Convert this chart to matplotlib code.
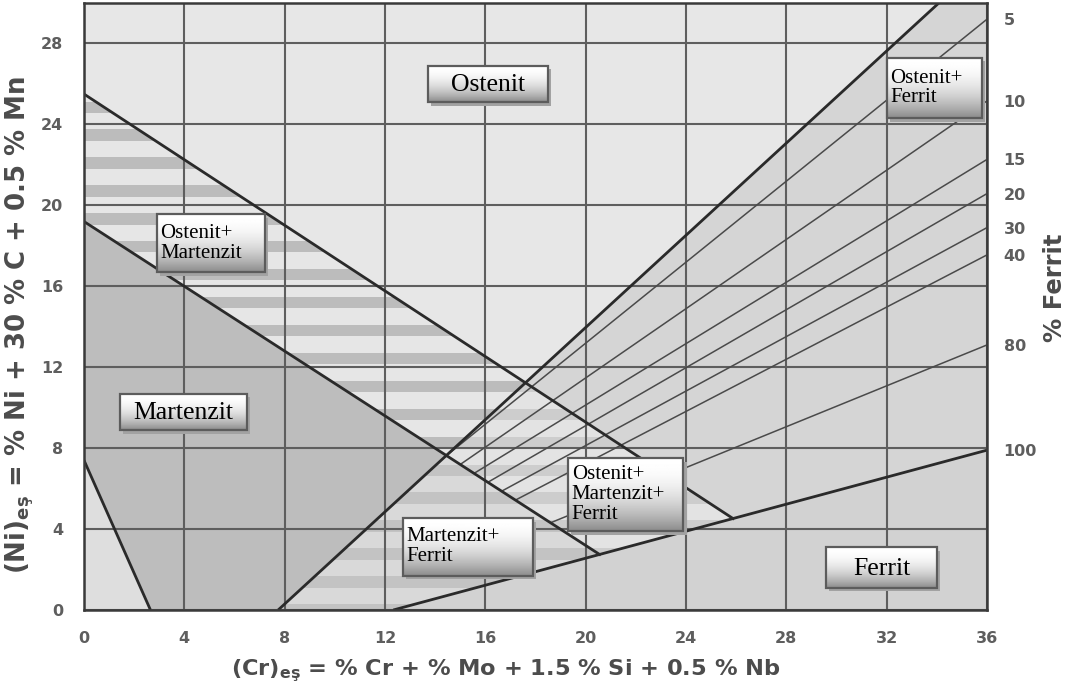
import numpy as np
import matplotlib
matplotlib.use("Agg")
import matplotlib.pyplot as plt
from matplotlib.patches import Polygon, Rectangle

# ---- axis ticks -------------------------------------------------------------
cr_ticks = [0, 4, 8, 12, 16, 20, 24, 28, 32, 36]
ni_ticks = [0, 4, 8, 12, 16, 20, 24, 28]

# ---- phase boundaries (Cr_eq, Ni_eq end points) -----------------------------
line_a_cr, line_a_ni = [0.0, 25.9], [25.5, 4.5]      # austenite / A+M
line_b_cr, line_b_ni = [0.0, 20.55], [19.2, 2.75]    # A+M / martensite
line_c_cr, line_c_ni = [0.0, 2.65], [7.4, 0.0]       # martensite lower limit
line_d_cr, line_d_ni = [7.74, 34.08], [0.0, 30.0]    # austenite / A+F
line_f_cr, line_f_ni = [12.33, 36.0], [0.0, 7.9]     # 100 % ferrite

# ---- iso-ferrite lines ------------------------------------------------------
ferrite_pct = ["5", "10", "15", "20", "30", "40", "80", "100"]
ferrite_end_ni = [29.2, 25.16, 22.27, 20.58, 18.9, 17.55, 13.1, 7.9]
ferrite_start_cr = [14.45, 15.0, 15.55, 16.1, 16.65, 17.2, 18.6]

# ---- phase field labels -----------------------------------------------------
label_text = ["Ostenit", "Ostenit+\nMartenzit", "Martenzit", "Ostenit+\nFerrit",
              "Martenzit+\nFerrit", "Ostenit+\nMartenzit+\nFerrit", "Ferrit"]
label_x0 = [13.7, 2.9, 1.44, 32.0, 12.7, 19.3, 29.6]
label_x1 = [18.5, 7.2, 6.5, 35.8, 17.9, 23.9, 34.0]
label_y0 = [25.1, 16.7, 8.9, 24.3, 1.7, 3.9, 1.1]
label_y1 = [26.9, 19.55, 10.7, 27.3, 4.55, 7.5, 3.1]


def seg(cr, ni):
    return np.array([cr[0], ni[0]]), np.array([cr[1], ni[1]])


def intersect(l1, l2):
    p, p2 = l1
    q, q2 = l2
    r, s = p2 - p, q2 - q
    t = np.cross(q - p, s) / np.cross(r, s)
    return p + t * r


LA = seg(line_a_cr, line_a_ni)
LB = seg(line_b_cr, line_b_ni)
LD = seg(line_d_cr, line_d_ni)
LF = seg(line_f_cr, line_f_ni)

p_ad = intersect(LA, LD)
p_bd = intersect(LB, LD)
p_af = intersect(LA, LF)
p_bf = intersect(LB, LF)

fig = plt.figure(figsize=(10.73, 6.96), dpi=100)
ax = fig.add_axes([84 / 1073, 86 / 696, 903 / 1073, 607 / 696])
ax.set_xlim(0, 36)
ax.set_ylim(0, 30)

C_AUST = "#e7e7e7"
C_MART = "#bdbdbd"
C_AF = "#d5d5d5"
C_FERR = "#d2d2d2"
ax.set_facecolor(C_AUST)

# austenite + ferrite field (right of line D)
ax.add_patch(Polygon([(line_d_cr[0], 0), (line_d_cr[1], 30), (36, 30), (36, 0)],
                     closed=True, fc=C_AF, ec="none", zorder=1))
# ferrite field
ax.add_patch(Polygon([(line_f_cr[0], 0), (36, line_f_ni[1]), (36, 0)],
                     closed=True, fc=C_FERR, ec="none", zorder=1))
# martensite field
ax.add_patch(Polygon([(0, line_c_ni[0]), (0, line_b_ni[0]), tuple(p_bd),
                      (line_d_cr[0], 0), (line_c_cr[1], 0)],
                     closed=True, fc=C_MART, ec="none", zorder=1))
# corner below line C
ax.add_patch(Polygon([(0, 0), (0, line_c_ni[0]), (line_c_cr[1], 0)],
                     closed=True, fc="#dedede", ec="none", zorder=1))

# two-phase / three-phase fields drawn with horizontal banding
stripe_centers = 24.85 - 1.38 * np.arange(0, 19)
stripe_h = 0.56

regions = [
    # A + M
    ([(0, line_a_ni[0]), tuple(p_ad), tuple(p_bd), (0, line_b_ni[0])], "#e6e6e6", "#bcbcbc"),
    # A + M + F
    ([tuple(p_ad), tuple(p_af), tuple(p_bf), tuple(p_bd)], "#e3e3e3", "#cdcdcd"),
    # M + F
    ([tuple(p_bd), tuple(p_bf), (line_f_cr[0], 0), (line_d_cr[0], 0)], "#d9d9d9", "#c3c3c3"),
]
for verts, base, band in regions:
    poly = Polygon(verts, closed=True, fc=base, ec="none", zorder=1)
    ax.add_patch(poly)
    for yc in stripe_centers:
        r = Rectangle((0, yc - stripe_h / 2), 36, stripe_h, fc=band, ec="none", zorder=1.1)
        ax.add_patch(r)
        r.set_clip_path(poly)

# grid
ax.set_xticks(cr_ticks)
ax.set_yticks(ni_ticks)
ax.set_axisbelow("line")
ax.grid(True, color="#5e5e5e", lw=1.5)

# iso-ferrite lines
for x0, yend in zip(ferrite_start_cr, ferrite_end_ni[:-1]):
    y0 = np.interp(x0, line_b_cr, line_b_ni)
    ax.plot([x0, 36], [y0, yend], color="#4a4a4a", lw=1.1, zorder=2.5,
            solid_capstyle="butt")

# phase boundaries
for cr, ni in [(line_c_cr, line_c_ni), (line_d_cr, line_d_ni), (line_f_cr, line_f_ni)]:
    ax.plot(cr, ni, color="#2a2a2a", lw=2.0, zorder=3, solid_capstyle="butt")
ax.plot([line_a_cr[0], p_af[0]], [line_a_ni[0], p_af[1]], color="#2a2a2a", lw=2.0, zorder=3)
ax.plot([line_b_cr[0], p_bf[0]], [line_b_ni[0], p_bf[1]], color="#2a2a2a", lw=2.0, zorder=3)

for sp in ax.spines.values():
    sp.set_color("#3a3a3a")
    sp.set_linewidth(1.8)
    sp.set_zorder(4)

TICK_KW = dict(fontsize=11.5, fontweight="bold", color="#5e5e5e")
ax.tick_params(length=0, pad=15)
ax.set_xticklabels([str(v) for v in cr_ticks], **TICK_KW)
ax.set_yticklabels([str(v) for v in ni_ticks], **TICK_KW)

ax2 = ax.twinx()
ax2.set_ylim(0, 30)
ax2.set_yticks(ferrite_end_ni)
ax2.set_yticklabels(ferrite_pct, **TICK_KW)
ax2.tick_params(length=0, pad=12)
for sp in ax2.spines.values():
    sp.set_visible(False)

# labelled boxes with gradient fill
grad = (1.0 - 0.45 * np.linspace(0, 1, 64) ** 2)[:, None]
for txt, x0, x1, y0, y1 in zip(label_text, label_x0, label_x1, label_y0, label_y1):
    ax.add_patch(Rectangle((x0 + 0.12, y0 - 0.18), x1 - x0, y1 - y0, fc="#a2a2a2",
                           ec="none", zorder=5))
    ax.imshow(grad, cmap="gray", vmin=0, vmax=1, extent=(x0, x1, y0, y1),
              aspect="auto", zorder=5.5, interpolation="bilinear")
    ax.add_patch(Rectangle((x0, y0), x1 - x0, y1 - y0, fc="none", ec="#5c5c5c",
                           lw=1.6, zorder=6))
    if "\n" in txt:
        ax.text(x0 + 0.15, (y0 + y1) / 2, txt, ha="left", va="center", fontsize=15,
                family="Liberation Serif", linespacing=1.05, zorder=7)
    else:
        ax.text((x0 + x1) / 2, (y0 + y1) / 2 - 0.05, txt, ha="center", va="center",
                fontsize=18.5, family="Liberation Serif", zorder=7)
ax.set_xlim(0, 36)
ax.set_ylim(0, 30)

LBL_KW = dict(ha="center", va="center", color="#4c4c4c", fontweight="bold")
fig.text(506 / 1073, 1 - 671 / 696,
         "(Cr)$_{\\mathregular{eş}}$ = % Cr + % Mo + 1.5 % Si + 0.5 % Nb",
         fontsize=16.2, **LBL_KW)
fig.text(20 / 1073, 1 - 325 / 696,
         "(Ni)$_{\\mathregular{eş}}$ = % Ni + 30 % C + 0.5 % Mn",
         rotation=90, fontsize=18.7, **LBL_KW)
fig.text(1055 / 1073, 1 - 288 / 696, "% Ferrit", rotation=90, fontsize=17.5, **LBL_KW)

fig.savefig("out.png", dpi=100, facecolor="white")
